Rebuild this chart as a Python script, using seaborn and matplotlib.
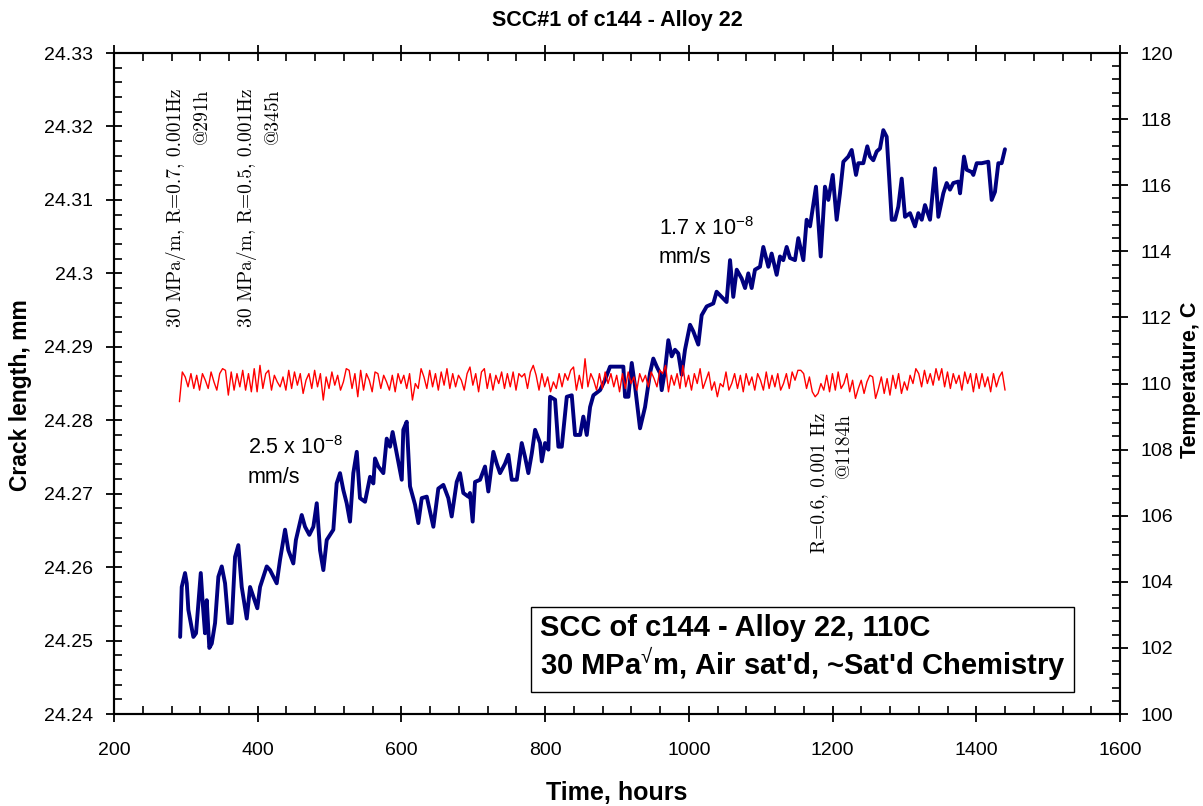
import numpy as np
import pandas as pd
import matplotlib
matplotlib.use("Agg")
import matplotlib.pyplot as plt
import seaborn as sns
from matplotlib.ticker import MultipleLocator, FuncFormatter

# ---------------- data ----------------
crack_hours = [292, 294.2, 298.8, 301.2, 303.4, 310.4, 314.1, 320.7, 323.4, 326.6, 329.0, 332.6, 336.0,
               340.6, 345.2, 349.9, 354.5, 359.1, 363.8, 368.4, 373.0, 377.7, 384.7, 389.3, 393.9,
               399.4, 403.2, 412.5, 417.1, 426.4, 431.0, 438.0, 442.6, 449.5, 453.1, 461.2, 465.8,
               471.8, 477.4, 482.1, 486.7, 491.3, 496.0, 505.2, 509.8, 514.5, 519.1, 523.8, 528.4,
               533.0, 537.8, 542.3, 549.3, 556.3, 560.9, 563.2, 567.8, 574.8, 579.5, 584.1, 587.7,
               593.4, 600.4, 602.6, 607.3, 611.9, 618.9, 623.5, 628.2, 635.2, 644.4, 651.3, 658.3,
               665.2, 669.9, 676.9, 681.5, 686.1, 693.0, 695.4, 699.1, 702.4, 709.4, 716.3, 720.9,
               727.9, 732.6, 737.2, 744.2, 748.8, 753.5, 760.5, 767.4, 772.0, 776.6, 781.4, 786.0,
               792.9, 795.3, 799.9, 804.5, 806.8, 813.8, 818.4, 823.1, 830.1, 837.0, 841.6, 848.6,
               853.1, 857.9, 862.5, 867.1, 876.4, 883.3, 890.3, 899.6, 908.8, 911.2, 915.8, 920.5,
               925.1, 932.0, 939.0, 945.9, 950.5, 955.3, 959.9, 962.2, 966.8, 971.4, 976.1, 980.7,
               985.3, 990.0, 994.6, 1001.6, 1006.2, 1013.1, 1017.8, 1024.8, 1034.0, 1038.6, 1045.6,
               1052.5, 1057.3, 1061.8, 1066.6, 1073.5, 1078.2, 1082.7, 1087.4, 1092.0, 1099.0,
               1103.6, 1110.6, 1115.2, 1122.2, 1126.8, 1131.4, 1136.1, 1140.7, 1147.7, 1152.3,
               1159.3, 1163.9, 1168.6, 1176.9, 1183.5, 1189.4, 1194.1, 1200.2, 1205.7, 1210.3,
               1215.0, 1221.9, 1226.6, 1232.6, 1235.8, 1242.8, 1248.3, 1252.1, 1256.7, 1261.4,
               1266.0, 1270.6, 1275.3, 1282.3, 1286.9, 1291.5, 1296.2, 1300.8, 1307.8, 1314.7,
               1319.3, 1324.1, 1328.6, 1335.6, 1342.6, 1347.2, 1354.1, 1358.8, 1363.4, 1368.0,
               1375.0, 1377.4, 1382.9, 1386.7, 1393.6, 1395.9, 1400.6, 1407.6, 1416.7, 1421.4,
               1426.0, 1430.7, 1435.3, 1439.9]
crack_mm = [24.2505, 24.2573, 24.2592, 24.2578, 24.2542, 24.2505, 24.2510, 24.2592, 24.2551, 24.2510,
            24.2555, 24.2490, 24.2496, 24.2524, 24.2587, 24.2601, 24.2578, 24.2524, 24.2524, 24.2614,
            24.2630, 24.2573, 24.2530, 24.2573, 24.2560, 24.2544, 24.2573, 24.2601, 24.2596, 24.2578,
            24.2610, 24.2651, 24.2623, 24.2605, 24.2637, 24.2671, 24.2655, 24.2644, 24.2655, 24.2687,
            24.2623, 24.2596, 24.2637, 24.2651, 24.2714, 24.2728, 24.2705, 24.2687, 24.2662, 24.2728,
            24.2757, 24.2694, 24.2689, 24.2723, 24.2714, 24.2748, 24.2737, 24.2728, 24.2775, 24.2764,
            24.2784, 24.2755, 24.2719, 24.2787, 24.2798, 24.2710, 24.2685, 24.2660, 24.2694, 24.2696,
            24.2655, 24.2707, 24.2712, 24.2694, 24.2669, 24.2716, 24.2728, 24.2701, 24.2696, 24.2701,
            24.2662, 24.2716, 24.2719, 24.2737, 24.2703, 24.2757, 24.2741, 24.2728, 24.2741, 24.2753,
            24.2719, 24.2719, 24.2769, 24.2750, 24.2728, 24.2755, 24.2787, 24.2769, 24.2744, 24.2769,
            24.2760, 24.2832, 24.2828, 24.2764, 24.2764, 24.2832, 24.2834, 24.2780, 24.2780, 24.2805,
            24.2780, 24.2818, 24.2834, 24.2841, 24.2855, 24.2873, 24.2873, 24.2873, 24.2832, 24.2832,
            24.2878, 24.2846, 24.2789, 24.2818, 24.2864, 24.2884, 24.2873, 24.2864, 24.2841, 24.2868,
            24.2909, 24.2887, 24.2896, 24.2891, 24.2862, 24.2896, 24.2930, 24.2921, 24.2903, 24.2943,
            24.2955, 24.2959, 24.2975, 24.2968, 24.2961, 24.3018, 24.2968, 24.3005, 24.2993, 24.2980,
            24.3000, 24.2980, 24.3005, 24.3009, 24.3036, 24.3009, 24.3027, 24.2998, 24.3023, 24.3018,
            24.3036, 24.3021, 24.3018, 24.3048, 24.3018, 24.3073, 24.3064, 24.3118, 24.3023, 24.3118,
            24.3100, 24.3134, 24.3073, 24.3109, 24.3152, 24.3159, 24.3168, 24.3134, 24.3150, 24.3150,
            24.3173, 24.3159, 24.3154, 24.3166, 24.3170, 24.3195, 24.3186, 24.3073, 24.3073, 24.3091,
            24.3129, 24.3077, 24.3082, 24.3064, 24.3082, 24.3073, 24.3093, 24.3073, 24.3143, 24.3077,
            24.3109, 24.3123, 24.3114, 24.3123, 24.3125, 24.3109, 24.3159, 24.3141, 24.3138, 24.3134,
            24.3150, 24.3150, 24.3152, 24.3100, 24.3111, 24.3150, 24.3150, 24.3169]

temp_first_hour = 291
temp_last_hour = 1440
temperature_c = [
    109.45, 110.35, 110.2, 109.9, 110.3, 109.85, 110.25, 109.8, 110.3, 110.1, 109.85, 110.35,
    110.05, 109.8, 110.3, 110.45, 110.4, 109.65, 110.35, 109.8, 110.3, 109.9, 110.4, 109.8,
    110.3, 109.75, 110.45, 109.75, 110.55, 109.85, 110.3, 110.4, 109.8, 110.25, 110.05, 109.9,
    110.2, 109.8, 110.4, 109.85, 110.35, 109.95, 110.3, 109.7, 110.1, 110.3, 109.85, 110.4,
    109.9, 110.3, 109.5, 110.2, 109.85, 110.35, 109.95, 110.25, 109.8, 110.05, 110.45, 110.4,
    109.85, 110.3, 109.6, 110.4, 109.8, 110.3, 110.1, 109.75, 110.35, 110.3, 109.85, 110.25,
    110.05, 109.8, 110.25, 109.75, 110.3, 110.0, 110.25, 109.85, 110.3, 109.5, 110.0, 109.85,
    110.45, 110.2, 109.85, 110.4, 109.9, 110.3, 109.8, 110.35, 109.95, 110.45, 109.85, 110.3,
    109.9, 110.25, 110.1, 109.8, 110.3, 110.5, 109.95, 110.3, 109.75, 110.35, 110.45, 109.85,
    110.3, 109.8, 110.25, 110.0, 110.35, 109.85, 110.3, 109.9, 110.35, 109.8, 110.3, 110.2,
    110.3, 109.85, 110.35, 110.55, 110.25, 109.8, 110.3, 109.9, 110.2, 109.75, 110.05, 109.85,
    110.3, 109.9, 110.3, 110.1, 110.4, 110.5, 109.8, 110.25, 109.85, 110.75, 109.9, 110.3,
    110.1, 109.8, 110.3, 109.85, 110.35, 110.0, 110.3, 109.9, 110.25, 109.75, 110.3, 109.85,
    110.35, 110.0, 110.2, 109.8, 110.3, 110.05, 110.25, 109.9, 110.35, 110.15, 109.9, 110.4,
    110.3, 110.55, 109.75, 110.25, 109.95, 110.3, 109.85, 110.55, 109.9, 110.25, 109.8, 110.3,
    110.0, 110.45, 109.85, 110.1, 110.35, 109.8, 110.05, 109.6, 110.0, 109.9, 110.35, 109.8,
    110.0, 110.3, 109.85, 110.25, 109.75, 110.3, 109.95, 110.2, 109.8, 110.3, 110.1, 109.8,
    110.35, 109.85, 110.25, 109.9, 110.3, 109.8, 110.0, 110.3, 109.85, 110.35, 110.1, 110.4,
    110.4, 110.3, 109.85, 110.2, 109.75, 109.6, 109.7, 110.0, 109.8, 110.25, 109.75, 110.3,
    109.8, 110.35, 109.85, 110.0, 110.3, 109.75, 110.1, 109.55, 109.85, 110.1, 109.7, 110.05,
    110.25, 110.2, 109.55, 109.85, 110.2, 109.7, 110.15, 109.65, 110.25, 109.85, 110.3, 109.7,
    110.05, 109.8, 110.25, 110.0, 110.45, 110.3, 109.9, 110.4, 110.0, 110.3, 109.95, 110.45,
    110.1, 110.45, 109.9, 110.35, 109.85, 110.3, 110.0, 110.25, 109.8, 110.35, 110.0, 110.3,
    109.75, 110.3, 109.85, 110.3, 109.9, 110.2, 109.75, 110.3, 109.9, 110.2, 110.35, 109.8,
]
temp_hours = np.linspace(temp_first_hour, temp_last_hour, len(temperature_c))

x_ticks = [200, 400, 600, 800, 1000, 1200, 1400, 1600]

# ---------------- style ----------------
sns.set_theme(style="ticks")
plt.rcParams["font.family"] = ["Liberation Sans", "DejaVu Sans"]
plt.rcParams["mathtext.fontset"] = "custom"
plt.rcParams["mathtext.rm"] = "Liberation Sans"
plt.rcParams["mathtext.it"] = "Liberation Sans:italic"
plt.rcParams["mathtext.bf"] = "Liberation Sans:bold"
plt.rcParams["text.color"] = "black"
plt.rcParams["axes.labelcolor"] = "black"
plt.rcParams["xtick.color"] = "black"
plt.rcParams["ytick.color"] = "black"
plt.rcParams["axes.edgecolor"] = "black"

fig = plt.figure(figsize=(12.03, 8.06), dpi=100)
ax = fig.add_axes([0.0948, 0.1141, 0.8362, 0.8201])
ax2 = ax.twinx()

crack_df = pd.DataFrame({"hours": crack_hours, "mm": crack_mm})
temp_df = pd.DataFrame({"hours": temp_hours, "C": temperature_c})

sns.lineplot(data=crack_df, x="hours", y="mm", ax=ax, color="#00007f", lw=2.8,
             sort=False, estimator=None)
sns.lineplot(data=temp_df, x="hours", y="C", ax=ax2, color="#ff0000", lw=1.0,
             sort=False, estimator=None)

ax.set_xlim(200, 1600)
ax.set_ylim(24.24, 24.33)
ax2.set_ylim(100, 120)
ax.set_xticks(x_ticks)
ax.xaxis.set_minor_locator(MultipleLocator(40))
ax.yaxis.set_major_locator(MultipleLocator(0.01))
ax.yaxis.set_minor_locator(MultipleLocator(0.002))
ax2.yaxis.set_major_locator(MultipleLocator(2))
ax2.yaxis.set_minor_locator(MultipleLocator(0.4))
ax.yaxis.set_major_formatter(FuncFormatter(lambda v, p: f"{v:.2f}".rstrip("0").rstrip(".")))

for a in (ax, ax2):
    for s in a.spines.values():
        s.set_linewidth(1.5)
        s.set_color("black")

ax.tick_params(which="major", direction="inout", length=12, width=1.3, top=True, right=False,
               labelsize=14, colors="black")
ax.tick_params(which="minor", direction="in", length=6, width=1.2, top=True, right=False,
               colors="black")
ax.tick_params(axis="x", which="major", pad=14)
ax.tick_params(axis="y", which="major", pad=9)
ax2.tick_params(which="major", direction="inout", length=12, width=1.3, labelsize=14, pad=9,
                colors="black")
ax2.tick_params(which="minor", direction="in", length=6, width=1.2, colors="black")

ax.set_xlabel("Time, hours", fontsize=18, fontweight="bold", va="center", color="black")
ax.xaxis.set_label_coords(0.4995, -0.1195)
ax.set_ylabel("Crack length, mm", fontsize=16.5, fontweight="bold", va="center", color="black")
ax.yaxis.set_label_coords(-0.0934, 0.4826)
ax2.set_ylabel("Temperature, C", fontsize=15.5, fontweight="bold", va="center", color="black")
ax2.yaxis.set_label_coords(1.0696, 0.505)
ax.set_title("SCC#1 of c144 - Alloy 22", fontsize=15.5, fontweight="bold", y=1.0499, pad=0,
             va="center", color="black")

# ---------------- annotations ----------------
serif = ["cmr10", "DejaVu Serif"]
ax.text(303, 24.3252, "30 MPa/m, R=0.7, 0.001Hz\n@291h", rotation=90, ha="center", va="top",
        multialignment="right", fontsize=14, family=serif, linespacing=1.5, color="black")
ax.text(403, 24.3252, "30 MPa/m, R=0.5, 0.001Hz\n@345h", rotation=90, ha="center", va="top",
        multialignment="right", fontsize=14, family=serif, linespacing=1.5, color="black")
ax.text(1198, 24.2810, "R=0.6, 0.001 Hz\n@1184h", rotation=90, ha="center", va="top",
        multialignment="right", fontsize=14, family=serif, linespacing=1.5, color="black")

ax.text(386, 24.2778, "2.5 x 10$^{-8}$\nmm/s", ha="left", va="top", fontsize=15.5,
        linespacing=1.45, color="black")
ax.text(958, 24.3077, "1.7 x 10$^{-8}$\nmm/s", ha="left", va="top", fontsize=15.5,
        linespacing=1.45, color="black")

ax.text(0.4235, 0.0469, "SCC of c144 - Alloy 22, 110C\n30 MPa$^{\u221a}$m, Air sat'd, ~Sat'd Chemistry",
        transform=ax.transAxes, ha="left", va="bottom", fontsize=21, fontweight="bold",
        linespacing=1.1, color="black",
        bbox=dict(boxstyle="square,pad=0.3", fc="white", ec="black", lw=1.0))

fig.savefig("out.png", dpi=100)
